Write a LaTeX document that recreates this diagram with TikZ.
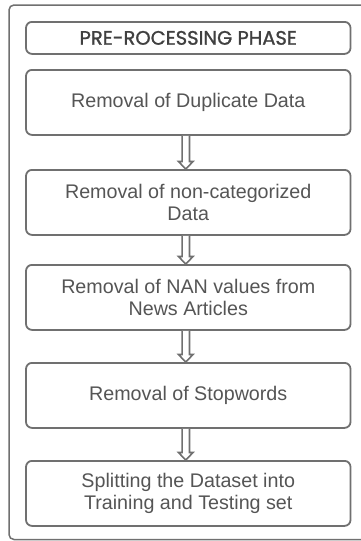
\documentclass[tikz,border=0pt]{standalone}
\usepackage{fontspec}
\setmainfont{Liberation Sans}
\newfontfamily\titlefont[FakeBold=1.2]{Poppins}
\usetikzlibrary{calc}
\definecolor{edgegray}{HTML}{707070}
\definecolor{textgray}{HTML}{555555}
\tikzset{
  stepbox/.style={draw=edgegray, line width=1.8pt, rounded corners=6pt, minimum width=324.5pt,
    align=center, text=textgray, font=\fontsize{19.7pt}{22.3pt}\selectfont, inner sep=0pt, anchor=north},
  titlebox/.style={stepbox, font=\titlefont\fontsize{19.5pt}{20pt}\selectfont, text=black!75},
  harrow/.style={draw=edgegray, line width=1.6pt, fill=white, line join=miter},
  frame/.style={draw=edgegray, line width=1.5pt, rounded corners=5pt}
}
\newcommand{\hollowarrow}[2]{%
  \draw[harrow] ([xshift=-6.2pt]#1.south) -- ([xshift=-6.2pt,yshift=7.5pt]#2.north)
    -- ([xshift=-9.8pt,yshift=7.5pt]#2.north) -- ([xshift=-2.5pt]#2.north)
    -- ([xshift=4.8pt,yshift=7.5pt]#2.north) -- ([xshift=1.2pt,yshift=7.5pt]#2.north)
    -- ([xshift=1.2pt]#1.south);}
\begin{document}
\begin{tikzpicture}[x=1pt,y=1pt]
\useasboundingbox (0,0) rectangle (361,-541);
\fill[white] (0,0) rectangle (361,-541);
\draw[frame] (375,-5) -- (9,-5) -- (9,-539.5) -- (375,-539.5);
\node[titlebox, minimum height=32pt] (t) at (188.25,-21) {PRE-ROCESSING PHASE};
\node[stepbox, minimum height=65pt] (b1) at (188.25,-69) {Removal of Duplicate Data};
\node[stepbox, minimum height=65pt] (b2) at (188.25,-169) {Removal of non-categorized\\Data};
\node[stepbox, minimum height=65pt] (b3) at (188.25,-264) {Removal of NAN values from\\News Articles};
\node[stepbox, minimum height=65pt] (b4) at (188.25,-362) {Removal of Stopwords};
\node[stepbox, minimum height=65pt] (b5) at (188.25,-460) {Splitting the Dataset into\\Training and Testing set};
\hollowarrow{b1}{b2}
\hollowarrow{b2}{b3}
\hollowarrow{b3}{b4}
\hollowarrow{b4}{b5}
\end{tikzpicture}
\end{document}
